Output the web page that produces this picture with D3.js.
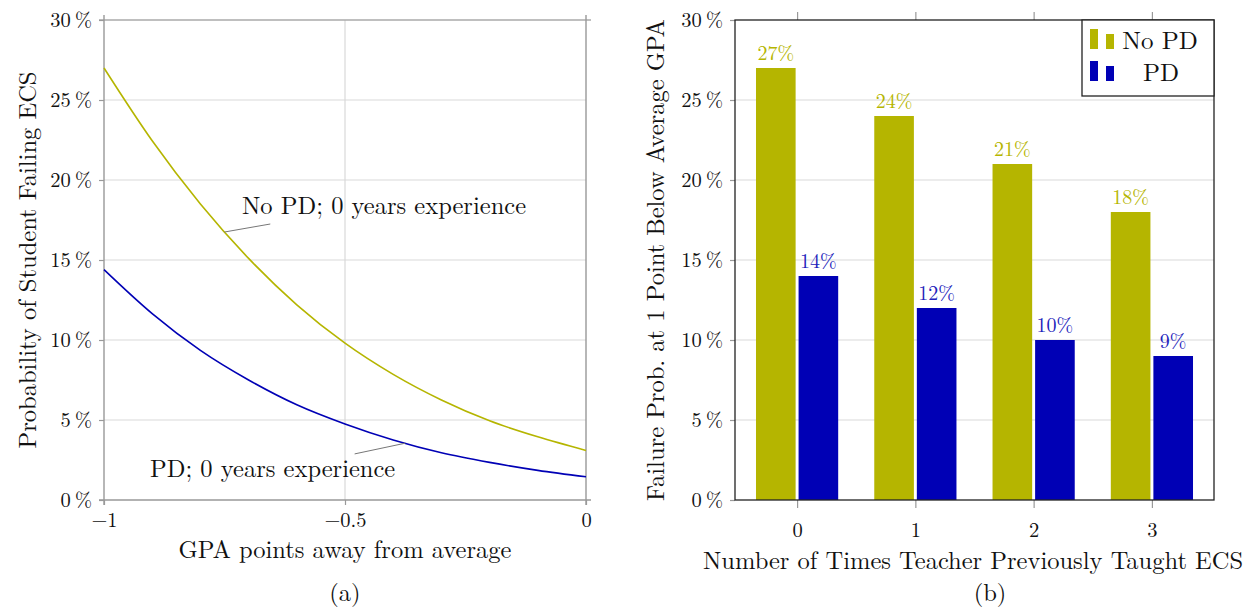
<!DOCTYPE html>
<html>
<head>
<meta charset="utf-8">
<script src="https://cdn.jsdelivr.net/npm/d3@7"></script>
<style>
  body { margin: 0; background: #fff; }
  text { font-family: "Latin Modern Roman", "CMU Serif", "Liberation Serif", serif; fill: #111; }
</style>
</head>
<body>
<div id="chart"></div>
<script>
// ---- data ----
var gpa = [-1, -0.9, -0.8, -0.7, -0.6, -0.5, -0.4, -0.3, -0.2, -0.1, 0];
var noPdCurve = [27.0, 22.45, 18.5, 15.1, 12.2, 9.8, 7.85, 6.25, 4.95, 3.95, 3.1];
var pdCurve = [14.4, 11.65, 9.35, 7.5, 5.95, 4.75, 3.75, 2.95, 2.35, 1.85, 1.45];

var timesTaught = [0, 1, 2, 3];
var noPdBars = [27, 24, 21, 18];
var pdBars = [14, 12, 10, 9];

var yTicks = [0, 5, 10, 15, 20, 25, 30];
var xTicksLeft = [-1, -0.5, 0];

var olive = "#b5b500", blue = "#0000b5";
var labelSize = "24.5px", tickSize = "20.5px";

var svg = d3.select("#chart").append("svg")
    .attr("width", 1247).attr("height", 609);

function pctLabel(d) { return d + "\u2009%"; }
function minusFmt(d) { return d < 0 ? "\u2212" + Math.abs(d) : "" + d; }

// ================= panel (a) =================
var xL = d3.scaleLinear().domain([-1, 0]).range([104, 586]);
var yL = d3.scaleLinear().domain([0, 30]).range([500, 20]);

var gA = svg.append("g");

// grid
gA.selectAll(".hgrid").data(yTicks.slice(1, -1)).enter().append("line")
    .attr("x1", xL(-1)).attr("x2", xL(0))
    .attr("y1", function(d) { return yL(d); }).attr("y2", function(d) { return yL(d); })
    .attr("stroke", "#d9d9d9").attr("stroke-width", 1.2);
gA.append("line")
    .attr("x1", xL(-0.5)).attr("x2", xL(-0.5)).attr("y1", yL(0)).attr("y2", yL(30))
    .attr("stroke", "#d9d9d9").attr("stroke-width", 1.2);

// frame lines (gray) with ticks that cross them
gA.append("line").attr("x1", xL(-1) - 5).attr("x2", xL(0) + 5)
    .attr("y1", yL(30)).attr("y2", yL(30)).attr("stroke", "#aaa").attr("stroke-width", 1.4);
gA.append("line").attr("x1", xL(-1) - 5).attr("x2", xL(0) + 5)
    .attr("y1", yL(0)).attr("y2", yL(0)).attr("stroke", "#999").attr("stroke-width", 1.4);
gA.append("line").attr("x1", xL(-1)).attr("x2", xL(-1))
    .attr("y1", yL(0) + 5).attr("y2", yL(30) - 5).attr("stroke", "#999").attr("stroke-width", 1.4);
gA.append("line").attr("x1", xL(0)).attr("x2", xL(0))
    .attr("y1", yL(0) + 5).attr("y2", yL(30) - 5).attr("stroke", "#999").attr("stroke-width", 1.4);

// axes via d3
var axYL = gA.append("g").attr("transform", "translate(" + xL(-1) + ",0)")
    .call(d3.axisLeft(yL).tickValues(yTicks).tickFormat(pctLabel).tickSize(5).tickPadding(7));
var axXL = gA.append("g").attr("transform", "translate(0," + yL(0) + ")")
    .call(d3.axisBottom(xL).tickValues(xTicksLeft).tickFormat(minusFmt).tickSize(5).tickPadding(7));
[axYL, axXL].forEach(function(ax) {
  ax.select(".domain").remove();
  ax.selectAll(".tick line").attr("stroke", "#999").attr("stroke-width", 1.2);
  ax.selectAll("text").style("font-size", tickSize).attr("fill", "#111");
});

// curves
var line = d3.line()
    .x(function(d) { return xL(d[0]); })
    .y(function(d) { return yL(d[1]); })
    .curve(d3.curveMonotoneX);

gA.append("path").datum(d3.zip(gpa, noPdCurve))
    .attr("d", line).attr("fill", "none").attr("stroke", olive).attr("stroke-width", 1.6);
gA.append("path").datum(d3.zip(gpa, pdCurve))
    .attr("d", line).attr("fill", "none").attr("stroke", blue).attr("stroke-width", 1.6);

// annotations
gA.append("line").attr("x1", xL(-0.75)).attr("y1", yL(16.75))
    .attr("x2", xL(-0.655)).attr("y2", yL(17.25)).attr("stroke", "#777").attr("stroke-width", 1);
gA.append("text").attr("x", 242).attr("y", 214).style("font-size", labelSize)
    .text("No PD; 0 years experience");
gA.append("line").attr("x1", xL(-0.375)).attr("y1", yL(3.55))
    .attr("x2", xL(-0.48)).attr("y2", yL(2.88)).attr("stroke", "#777").attr("stroke-width", 1);
gA.append("text").attr("x", 150).attr("y", 477).style("font-size", labelSize)
    .text("PD; 0 years experience");

// labels
gA.append("text").attr("transform", "translate(36," + yL(15) + ") rotate(-90)")
    .attr("text-anchor", "middle").style("font-size", labelSize)
    .text("Probability of Student Failing ECS");
gA.append("text").attr("x", xL(-0.5)).attr("y", 558).attr("text-anchor", "middle")
    .style("font-size", labelSize).text("GPA points away from average");
gA.append("text").attr("x", xL(-0.5)).attr("y", 601).attr("text-anchor", "middle")
    .style("font-size", labelSize).text("(a)");

// ================= panel (b) =================
var xR = d3.scaleLinear().domain([-0.525, 3.525]).range([735, 1214]);
var yR = d3.scaleLinear().domain([0, 30]).range([500, 20]);
var barW = 0.335, barShift = 0.18;

var gB = svg.append("g");

gB.selectAll(".hgrid").data(yTicks.slice(1, -1)).enter().append("line")
    .attr("x1", xR(-0.525)).attr("x2", xR(3.525))
    .attr("y1", function(d) { return yR(d); }).attr("y2", function(d) { return yR(d); })
    .attr("stroke", "#d9d9d9").attr("stroke-width", 1.2);

var axYR = gB.append("g").attr("transform", "translate(" + xR(-0.525) + ",0)")
    .call(d3.axisLeft(yR).tickValues(yTicks).tickFormat(pctLabel).tickSize(5).tickPadding(7));
var axXR = gB.append("g").attr("transform", "translate(0," + yR(0) + ")")
    .call(d3.axisBottom(xR).tickValues(timesTaught).tickFormat(d3.format("d")).tickSize(8).tickPadding(14));
var axXRtop = gB.append("g").attr("transform", "translate(0," + yR(30) + ")")
    .call(d3.axisTop(xR).tickValues(timesTaught).tickFormat("").tickSize(8));
[axYR, axXR, axXRtop].forEach(function(ax) {
  ax.select(".domain").remove();
  ax.selectAll(".tick line").attr("stroke", "#999").attr("stroke-width", 1.2);
  ax.selectAll("text").style("font-size", tickSize).attr("fill", "#111");
});

// bars
gB.selectAll(".barNo").data(d3.zip(timesTaught, noPdBars)).enter().append("rect")
    .attr("x", function(d) { return xR(d[0] - barShift - barW / 2); })
    .attr("width", xR(barW) - xR(0))
    .attr("y", function(d) { return yR(d[1]); })
    .attr("height", function(d) { return yR(0) - yR(d[1]); })
    .attr("fill", olive);
gB.selectAll(".barPd").data(d3.zip(timesTaught, pdBars)).enter().append("rect")
    .attr("x", function(d) { return xR(d[0] + barShift - barW / 2); })
    .attr("width", xR(barW) - xR(0))
    .attr("y", function(d) { return yR(d[1]); })
    .attr("height", function(d) { return yR(0) - yR(d[1]); })
    .attr("fill", blue);

gB.selectAll(".lblNo").data(d3.zip(timesTaught, noPdBars)).enter().append("text")
    .attr("x", function(d) { return xR(d[0] - barShift); })
    .attr("y", function(d) { return yR(d[1]) - 8; })
    .attr("text-anchor", "middle").style("font-size", "20px").style("fill", olive)
    .text(function(d) { return d[1] + "%"; });
gB.selectAll(".lblPd").data(d3.zip(timesTaught, pdBars)).enter().append("text")
    .attr("x", function(d) { return xR(d[0] + barShift); })
    .attr("y", function(d) { return yR(d[1]) - 8; })
    .attr("text-anchor", "middle").style("font-size", "20px").style("fill", "#2222bb")
    .text(function(d) { return d[1] + "%"; });

// box
gB.append("rect").attr("x", xR(-0.525)).attr("y", yR(30))
    .attr("width", xR(3.525) - xR(-0.525)).attr("height", yR(0) - yR(30))
    .attr("fill", "none").attr("stroke", "#222").attr("stroke-width", 1.3);

// legend
var leg = gB.append("g").attr("transform", "translate(1082,20)");
leg.append("rect").attr("width", 132).attr("height", 76)
    .attr("fill", "#fff").attr("stroke", "#222").attr("stroke-width", 1.3);
[["No PD", olive, 6], ["PD", blue, 38]].forEach(function(e, i) {
  leg.append("rect").attr("x", 8).attr("y", e[2] + 3).attr("width", 8).attr("height", 20).attr("fill", e[1]);
  leg.append("rect").attr("x", 24).attr("y", e[2] + 8).attr("width", 8).attr("height", 15).attr("fill", e[1]);
  leg.append("text").attr("x", i === 0 ? 78 : 79).attr("y", e[2] + 23)
      .attr("text-anchor", "middle").style("font-size", "25px").text(e[0]);
});

// labels
gB.append("text").attr("transform", "translate(664," + yR(15) + ") rotate(-90)")
    .attr("text-anchor", "middle").style("font-size", labelSize)
    .text("Failure Prob. at 1 Point Below Average GPA");
gB.append("text").attr("x", 973).attr("y", 569).attr("text-anchor", "middle")
    .style("font-size", labelSize).text("Number of Times Teacher Previously Taught ECS");
gB.append("text").attr("x", 990).attr("y", 601).attr("text-anchor", "middle")
    .style("font-size", labelSize).text("(b)");
</script>
</body>
</html>
